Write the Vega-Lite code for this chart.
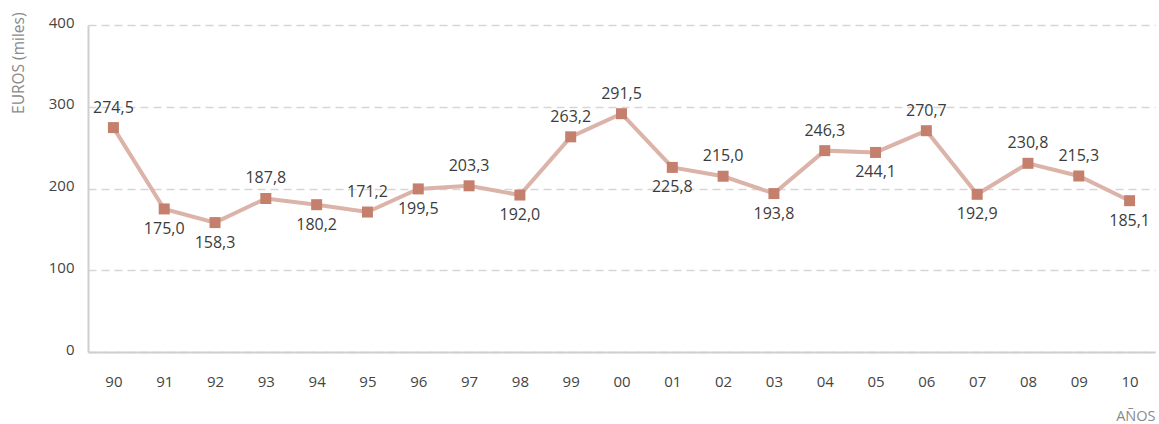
{
  "$schema": "https://vega.github.io/schema/vega-lite/v6.json",
  "width": 1067,
  "height": 327,
  "autosize": "none",
  "padding": {"left": 88, "top": 25, "right": 4, "bottom": 72},
  "background": "white",
  "config": {
    "view": {"stroke": null},
    "font": "Open Sans",
    "axis": {"labelFont": "Open Sans", "titleFont": "Open Sans"}
  },
  "data": {
    "values": [
      {"year": "90", "value": 274.5, "label": "274,5", "side": "up"},
      {"year": "91", "value": 175.0, "label": "175,0", "side": "down"},
      {"year": "92", "value": 158.3, "label": "158,3", "side": "down"},
      {"year": "93", "value": 187.8, "label": "187,8", "side": "up"},
      {"year": "94", "value": 180.2, "label": "180,2", "side": "down"},
      {"year": "95", "value": 171.2, "label": "171,2", "side": "up"},
      {"year": "96", "value": 199.5, "label": "199,5", "side": "down"},
      {"year": "97", "value": 203.3, "label": "203,3", "side": "up"},
      {"year": "98", "value": 192.0, "label": "192,0", "side": "down"},
      {"year": "99", "value": 263.2, "label": "263,2", "side": "up"},
      {"year": "00", "value": 291.5, "label": "291,5", "side": "up"},
      {"year": "01", "value": 225.8, "label": "225,8", "side": "down"},
      {"year": "02", "value": 215.0, "label": "215,0", "side": "up"},
      {"year": "03", "value": 193.8, "label": "193,8", "side": "down"},
      {"year": "04", "value": 246.3, "label": "246,3", "side": "up"},
      {"year": "05", "value": 244.1, "label": "244,1", "side": "down"},
      {"year": "06", "value": 270.7, "label": "270,7", "side": "up"},
      {"year": "07", "value": 192.9, "label": "192,9", "side": "down"},
      {"year": "08", "value": 230.8, "label": "230,8", "side": "up"},
      {"year": "09", "value": 215.3, "label": "215,3", "side": "up"},
      {"year": "10", "value": 185.1, "label": "185,1", "side": "down"}
    ]
  },
  "encoding": {
    "x": {
      "field": "year",
      "type": "ordinal",
      "sort": null,
      "scale": {"paddingInner": 0, "paddingOuter": 0.5},
      "axis": {
        "title": "AÑOS",
        "titleColor": "#8a8a8a",
        "titleFontSize": 14.5,
        "titleFontWeight": "normal",
        "titleAnchor": "end",
        "titleAlign": "right",
        "titleBaseline": "middle",
        "titleX": 1067,
        "titleY": 64,
        "labelAngle": 0,
        "labelColor": "#444444",
        "labelFontSize": 15,
        "labelPadding": 29,
        "labelBaseline": "middle",
        "ticks": false,
        "domainColor": "#cfcfcf",
        "domainWidth": 2,
        "grid": false
      }
    },
    "y": {
      "field": "value",
      "type": "quantitative",
      "scale": {"domain": [0, 400], "nice": false},
      "axis": {
        "values": [0, 100, 200, 300, 400],
        "title": "EUROS (miles)",
        "titleColor": "#8a8a8a",
        "titleFontSize": 15.5,
        "titleFontWeight": "normal",
        "titleAngle": 270,
        "titleAlign": "right",
        "titleBaseline": "middle",
        "titleX": -70,
        "titleY": -13,
        "labelColor": "#444444",
        "labelFontSize": 15,
        "labelPadding": 14,
        "labelOffset": -3,
        "ticks": false,
        "domainColor": "#cfcfcf",
        "domainWidth": 2,
        "grid": true,
        "gridColor": "#d6d6d6",
        "gridDash": [8, 5],
        "gridWidth": 1.5
      }
    }
  },
  "layer": [
    {
      "mark": {"type": "line", "color": "#dbb3a8", "strokeWidth": 4}
    },
    {
      "mark": {"type": "square", "color": "#c4806c", "opacity": 1, "size": 121, "filled": true}
    },
    {
      "transform": [{"filter": "datum.side == 'up'"}],
      "mark": {"type": "text", "dy": -20, "fontSize": 16, "color": "#3c3c3c", "baseline": "middle"},
      "encoding": {"text": {"field": "label"}}
    },
    {
      "transform": [{"filter": "datum.side == 'down'"}],
      "mark": {"type": "text", "dy": 20, "fontSize": 16, "color": "#3c3c3c", "baseline": "middle"},
      "encoding": {"text": {"field": "label"}}
    }
  ]
}
